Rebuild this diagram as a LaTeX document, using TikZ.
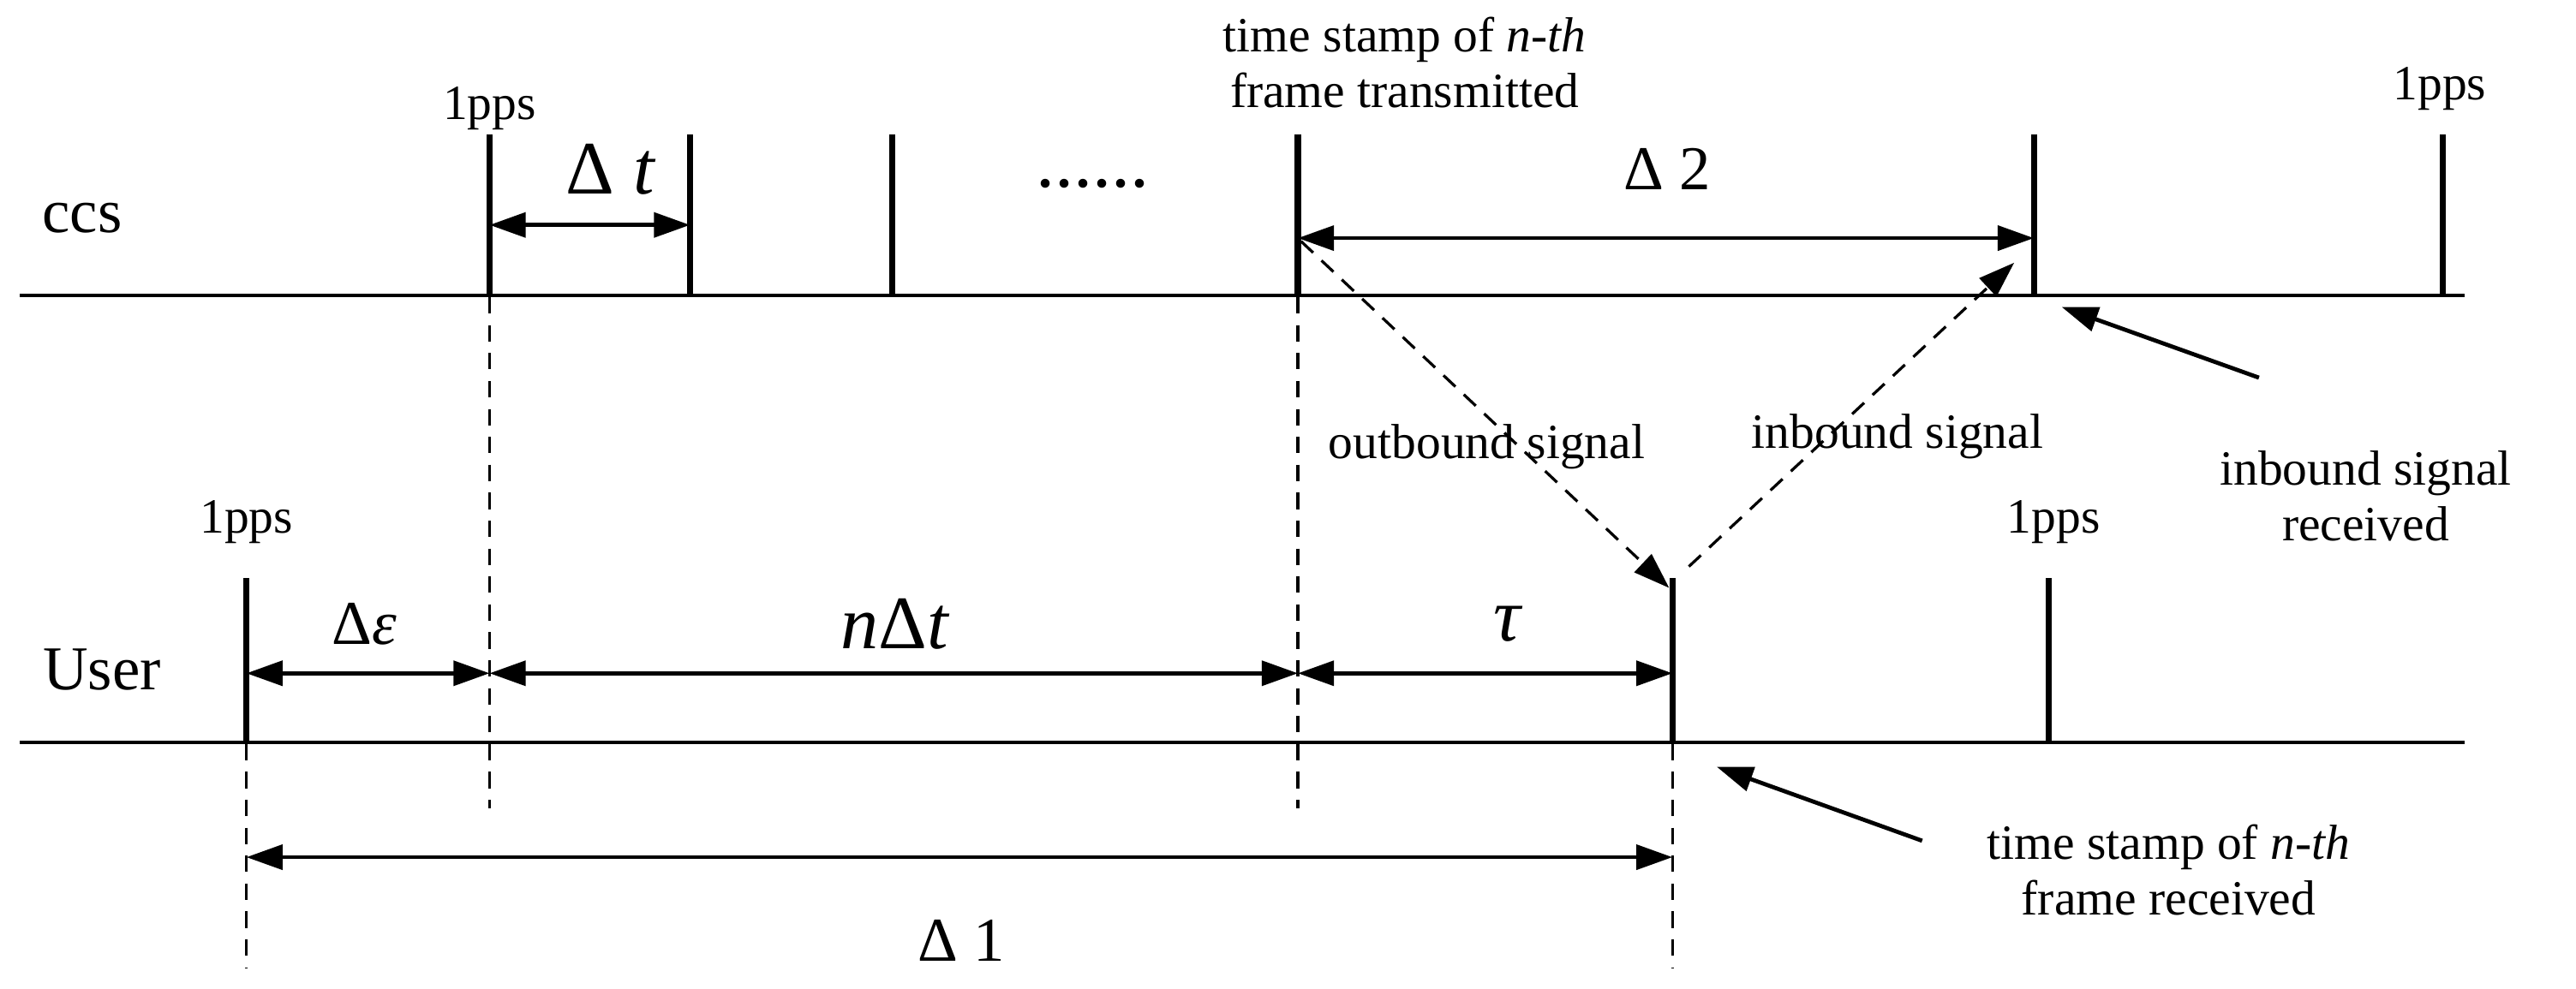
\documentclass[tikz,border=0pt]{standalone}
\usepackage{fontspec}
\setmainfont{Liberation Serif}
\usetikzlibrary{arrows.meta}
\begin{document}
\begin{tikzpicture}[x=1pt,y=-1pt,
  base/.style={line width=2.4pt},
  tick/.style={line width=3.8pt},
  dsh/.style={line width=1.7pt,dash pattern=on 10pt off 7pt},
  dim/.style={line width=2.5pt,{Triangle[length=22pt,width=15pt]}-{Triangle[length=22pt,width=15pt]}},
  sarr/.style={line width=2.5pt,-{Triangle[length=22pt,width=15pt]}},
  lbl/.style={font=\fontsize{30}{34}\selectfont,inner sep=0pt,align=center},
  mid/.style={font=\fontsize{38}{40}\selectfont,inner sep=0pt},
  big/.style={font=\fontsize{46}{48}\selectfont,inner sep=0pt}]
\useasboundingbox (0,0) rectangle (1568,602);
% lines
\coordinate (cL) at (12,180); \coordinate (cR) at (1500,180);
\coordinate (uL) at (12,452); \coordinate (uR) at (1500,452);
\draw[base] (cL) -- (cR);
\draw[base] (uL) -- (uR);
% ccs ticks
\foreach \n/\x in {a/298,b/420,c/543,d/790,e/1238,f/1487}{
  \coordinate (ct\n) at (\x,82); \coordinate (cb\n) at (\x,181);
  \draw[tick] (ct\n) -- (cb\n);}
% user ticks
\foreach \n/\x in {a/150,b/1018,c/1247}{
  \coordinate (ut\n) at (\x,352); \coordinate (ub\n) at (\x,453);
  \draw[tick] (ut\n) -- (ub\n);}
% dashed verticals
\coordinate (d1) at (298,492); \coordinate (d2) at (790,492);
\coordinate (d3) at (150,590); \coordinate (d4) at (1018,590);
\draw[dsh] (cba) -- (d1);
\draw[dsh] (cbd) -- (d2);
\draw[dsh] (uba) -- (d3);
\draw[dsh] (ubb) -- (d4);
% dimension arrows
\coordinate (p1) at (298,137); \coordinate (p2) at (420,137);
\draw[dim] (p1) -- (p2);
\coordinate (q1) at (790,145); \coordinate (q2) at (1238,145);
\draw[dim] (q1) -- (q2);
\coordinate (r1) at (150,410); \coordinate (r2) at (298,410);
\coordinate (r3) at (790,410); \coordinate (r4) at (1018,410);
\draw[dim] (r1) -- (r2);
\draw[dim] (r2) -- (r3);
\draw[dim] (r3) -- (r4);
\coordinate (s1) at (150,522); \coordinate (s2) at (1018,522);
\draw[dim] (s1) -- (s2);
% signals
\coordinate (o1) at (792,147); \coordinate (o2) at (1016,358);
\draw[dsh,-{Triangle[length=22pt,width=15pt]}] (o1) -- (o2);
\coordinate (i1) at (1028,345); \coordinate (i2) at (1226,160);
\draw[dsh,-{Triangle[length=22pt,width=15pt]}] (i1) -- (i2);
\coordinate (a1) at (1375,230); \coordinate (a2) at (1255,187);
\draw[sarr] (a1) -- (a2);
\coordinate (b1) at (1170,512); \coordinate (b2) at (1045,467);
\draw[sarr] (b1) -- (b2);
% labels
\node[mid] (ccs) at (50,133) {ccs};
\node[mid] (user) at (62,408) {User};
\node[lbl] (pp1) at (298,66) {1pps};
\node[lbl] (pp2) at (150,318) {1pps};
\node[lbl] (pp3) at (1485,54) {1pps};
\node[lbl] (pp4) at (1250,318) {1pps};
\node[lbl] (ts1) at (855,38) {time stamp of \textit{n-th}\\frame transmitted};
\node[big] (dt) at (372,103) {Δ \textit{t}};
\node[big] (dots) at (665,112) {......};
\node[mid] (d2l) at (1015,103) {Δ 2};
\node[lbl] (ob) at (905,272) {outbound signal};
\node[lbl] (ib) at (1155,266) {inbound signal};
\node[lbl] (ibr) at (1440,302) {inbound signal\\received};
\node[big] (tau) at (918,380) {\textit{τ}};
\node[big] (ndt) at (545,380) {\textit{n}Δ\textit{t}};
\node[mid] (de) at (222,380) {Δ\textit{ε}};
\node[mid] (d1l) at (585,573) {Δ 1};
\node[lbl] (tsr) at (1320,530) {time stamp of \textit{n-th}\\frame received};
\end{tikzpicture}
\end{document}
